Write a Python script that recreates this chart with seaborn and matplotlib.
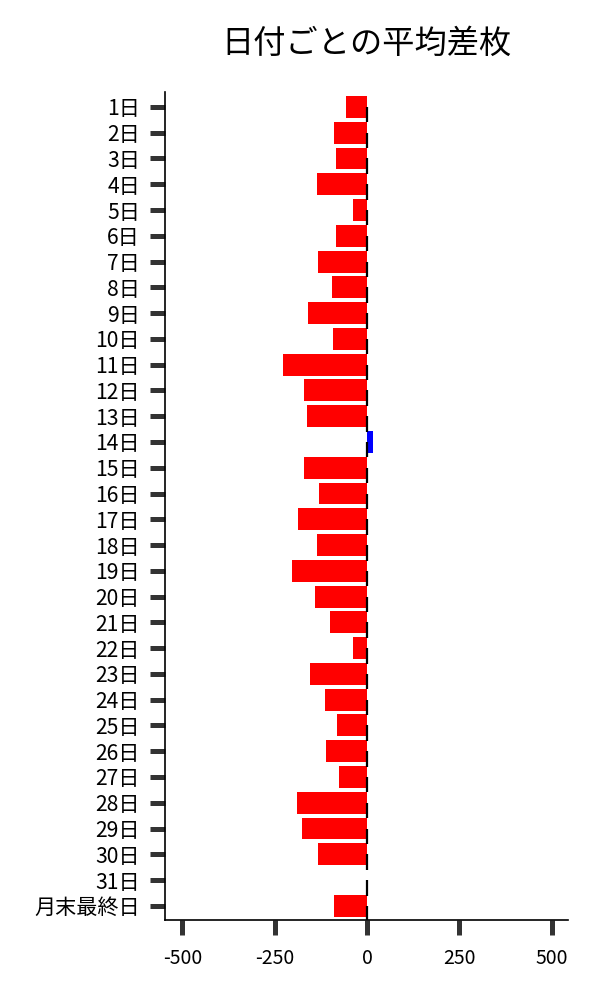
import numpy as np
import pandas as pd
import matplotlib
matplotlib.use("Agg")
import matplotlib.pyplot as plt
import seaborn as sns

# values
days = [f"{i}日" for i in range(1, 32)] + ["月末最終日"]
avg_diff = [-56, -88, -83, -135, -37, -83, -132, -94, -159, -91,
            -227, -170, -162, 16, -170, -129, -186, -135, -202, -140,
            -99, -37, -154, -113, -80, -110, -75, -189, -175, -132,
            1, -88]

df = pd.DataFrame({"day": days, "diff": avg_diff})
df["sign"] = np.where(df["diff"] >= 0, "plus", "minus")

sns.set_style("ticks")
plt.rcParams["font.family"] = ["Noto Sans CJK JP", "DejaVu Sans"]

fig = plt.figure(figsize=(6, 10), dpi=100)
ax = fig.add_axes([0.275, 0.08, 0.672, 0.828])

sns.barplot(data=df, x="diff", y="day", hue="sign", order=days,
            palette={"minus": "#ff0000", "plus": "#0000ff"},
            dodge=False, legend=False, width=0.85, saturation=1,
            linewidth=0, ax=ax)

# small black marks on the zero line
pos = np.arange(len(days))
ax.vlines(np.zeros(len(days)), pos + 0.0, pos + 0.6, color="black", lw=1.6)

ax.set_xlim(-547, 545)
ax.set_ylim(len(days) - 0.45, -0.58)
ax.set_xticks([-500, -250, 0, 250, 500])
ax.set_xticklabels(["-500", "-250", "0", "250", "500"])
ax.set_xlabel("")
ax.set_ylabel("")
ax.tick_params(axis="both", length=11, width=3.6, color="#333333",
               labelcolor="black", labelsize=14, pad=9,
               left=True, bottom=True)
ax.tick_params(axis="y", labelsize=15.2, pad=7)
sns.despine(ax=ax)
for s in ["left", "bottom"]:
    ax.spines[s].set_color("black")
    ax.spines[s].set_linewidth(1.2)

ax.set_title("日付ごとの平均差枚", fontsize=23.2, pad=28, color="black")

fig.savefig("out.png", dpi=100)
